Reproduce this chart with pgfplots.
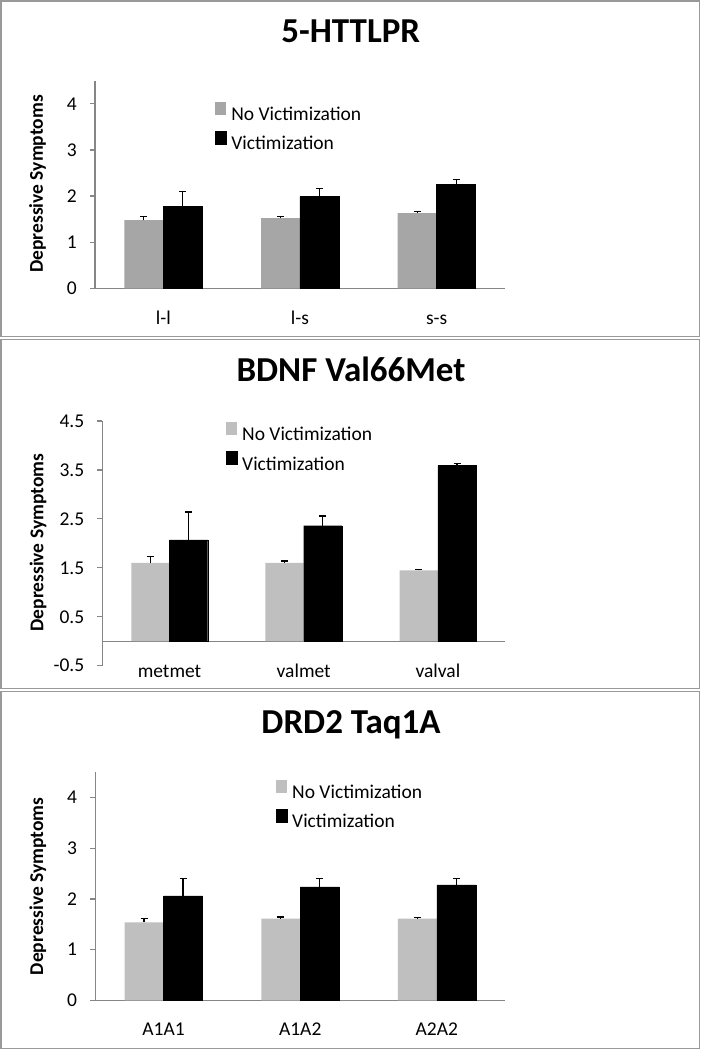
\documentclass[border=0pt]{standalone}
\usepackage{pgfplots}
\usepackage{pgfplotstable}
\pgfplotsset{compat=1.18}
\usepackage{fontspec}
\setmainfont{Carlito}
\definecolor{barA}{HTML}{A6A6A6}
\definecolor{barB}{HTML}{BFBFBF}
\definecolor{axgray}{HTML}{868686}
\definecolor{framegray}{HTML}{999999}

% x positions: category index -/+ half a bar width
\pgfplotstableread{
x y e
-0.1425 1.48 0.07
0.8575 1.52 0.04
1.8575 1.63 0.03
}\hNo
\pgfplotstableread{
x y e
0.1425 1.77 0.33
1.1425 1.99 0.17
2.1425 2.26 0.10
}\hVic
\pgfplotstableread{
x y e
-0.1425 1.60 0.13
0.8575 1.60 0.04
1.8575 1.45 0.02
}\bNo
\pgfplotstableread{
x y e
0.1425 2.07 0.57
1.1425 2.36 0.20
2.1425 3.59 0.04
}\bVic
\pgfplotstableread{
x y e
-0.1425 1.54 0.07
0.8575 1.61 0.035
1.8575 1.61 0.03
}\dNo
\pgfplotstableread{
x y e
0.1425 2.06 0.34
1.1425 2.24 0.16
2.1425 2.28 0.12
}\dVic

\pgfplotsset{
  panel/.style={
    scale only axis,
    axis x line*=bottom, axis y line*=left,
    axis line style={axgray, line width=1.2pt},
    xmin=-0.5, xmax=2.5,
    xtick={0,1,2},
    xtick style={draw=none},
    ytick style={axgray, line width=1.2pt},
    major tick length=5pt,
    tick align=outside,
    yticklabel style={font=\fontsize{19.5}{22}\selectfont, inner sep=0pt, xshift=-13pt},
    xticklabel style={font=\fontsize{19.5}{22}\selectfont, anchor=base, inner sep=0pt},
    ylabel={Depressive Symptoms},
    ylabel style={font=\fontsize{19.5}{22}\selectfont\bfseries, anchor=center},
    title style={font=\fontsize{35}{40}\selectfont\bfseries, anchor=base},
    legend style={draw=none, fill=none, anchor=north west, inner sep=0pt,
      font=\fontsize{19.5}{22}\selectfont, row sep=9pt,
      nodes={inner sep=0pt},
      /tikz/every odd column/.style={column sep=5pt}},
    legend cell align=left,
    bar width=0.285,
    bar shift=0,
    error bars/y dir=plus,
    error bars/y explicit,
    error bars/error bar style={black, line width=1.2pt},
    error bars/error mark options={rotate=90, mark size=3.5pt, black, line width=1.2pt},
  }
}

\begin{document}
\begin{tikzpicture}[x=1pt,y=1pt]
\path[use as bounding box] (0pt,0pt) rectangle (701pt,-1050pt);
% frames
\draw[framegray, line width=1.5pt] (1pt,-1pt) rectangle (699.5pt,-336.5pt);
\draw[framegray, line width=1.5pt] (1pt,-339.5pt) rectangle (699.5pt,-688.5pt);
\draw[framegray, line width=1.5pt] (1pt,-691.5pt) rectangle (699.5pt,-1048.5pt);

% Panel 1
\begin{axis}[panel,
  at={(95pt,-288.3pt)}, anchor=south west,
  width=410pt, height=207.5pt,
  ymin=0, ymax=4.5, ytick={0,1,2,3,4}, yticklabels={0,1,2,3,4},
  xticklabels={l-l,l-s,s-s},
  xticklabel style={yshift=-31pt},
  title={5-HTTLPR}, title style={at={(0.624,1.158)}},
  ylabel style={at={(axis description cs:-0.14,0.503)}},
  legend style={at={(0.292,0.898)}},
]
\addplot[ybar, fill=barA, draw=none,
  legend image code/.code={\fill[barA] (0pt,0pt) rectangle (11pt,12.5pt);}]
  table[x=x, y=y, y error=e] {\hNo};
\addplot[ybar, fill=black, draw=black,
  legend image code/.code={\fill[black] (0pt,0pt) rectangle (11pt,12.5pt);}]
  table[x=x, y=y, y error=e] {\hVic};
\legend{No Victimization, Victimization}
\end{axis}

% Panel 2
\begin{axis}[panel,
  at={(102.4pt,-665.7pt)}, anchor=south west,
  width=402.6pt, height=244.7pt,
  x axis line style={draw=none},
  ymin=-0.5, ymax=4.5, ytick={-0.5,0.5,1.5,2.5,3.5,4.5},
  yticklabels={-0.5,0.5,1.5,2.5,3.5,4.5},
  xticklabels={metmet,valmet,valval},
  xticklabel style={yshift=-7pt},
  title={BDNF Val66Met}, title style={at={(0.6175,1.136)}},
  ylabel style={at={(axis description cs:-0.16,0.503)}},
  legend style={at={(0.306,0.995)}},
]
\draw[axgray, line width=1.2pt] (axis cs:-0.5,0) -- (axis cs:2.5,0);
\addplot[ybar, fill=barB, draw=none,
  legend image code/.code={\fill[barB] (0pt,0pt) rectangle (11pt,12.5pt);}]
  table[x=x, y=y, y error=e] {\bNo};
\addplot[ybar, fill=black, draw=black,
  legend image code/.code={\fill[black] (0pt,0pt) rectangle (11pt,12.5pt);}]
  table[x=x, y=y, y error=e] {\bVic};
\legend{No Victimization, Victimization}
\end{axis}

% Panel 3
\begin{axis}[panel,
  at={(95.2pt,-1000.3pt)}, anchor=south west,
  width=410pt, height=228pt,
  ymin=0, ymax=4.5, ytick={0,1,2,3,4}, yticklabels={0,1,2,3,4},
  xticklabels={A1A1,A1A2,A2A2},
  xticklabel style={yshift=-30.4pt},
  title={DRD2 Taq1A}, title style={at={(0.624,1.146)}},
  ylabel style={at={(axis description cs:-0.14,0.5)}},
  legend style={at={(0.44,0.966)}},
]
\addplot[ybar, fill=barB, draw=none,
  legend image code/.code={\fill[barB] (0pt,0pt) rectangle (11pt,12.5pt);}]
  table[x=x, y=y, y error=e] {\dNo};
\addplot[ybar, fill=black, draw=black,
  legend image code/.code={\fill[black] (0pt,0pt) rectangle (11pt,12.5pt);}]
  table[x=x, y=y, y error=e] {\dVic};
\legend{No Victimization, Victimization}
\end{axis}
\end{tikzpicture}
\end{document}
